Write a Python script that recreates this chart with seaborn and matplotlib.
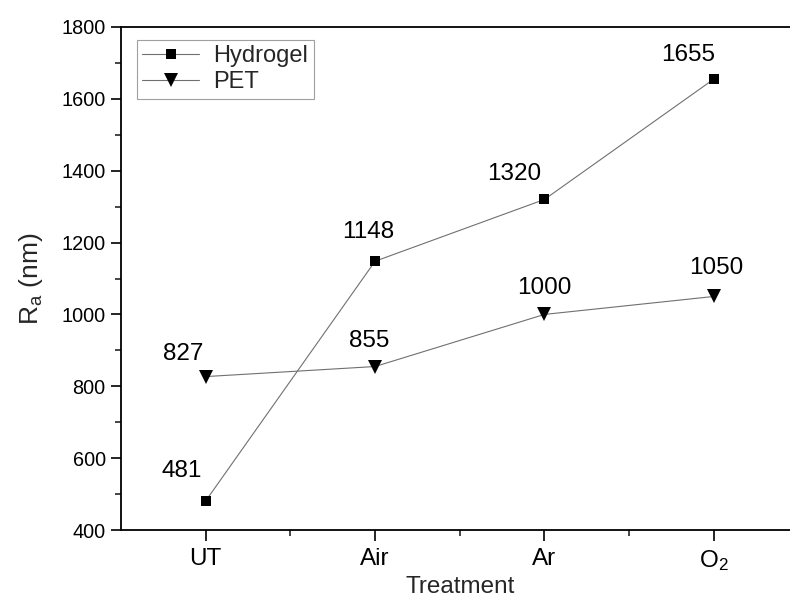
import matplotlib
matplotlib.use("Agg")
import matplotlib.pyplot as plt
from matplotlib.lines import Line2D
from matplotlib.ticker import MultipleLocator, FixedLocator
import seaborn as sns
import pandas as pd

# Surface roughness by plasma treatment
treatments = ["UT", "Air", "Ar", "O$_2$"]
hydrogel_ra = [481, 1148, 1320, 1655]
pet_ra = [827, 855, 1000, 1050]

# value-label offsets in pixels (dx, dy) relative to each marker
hydrogel_label_offsets = [(-24, 30), (-7, 29), (-30, 25), (-26, 24)]
pet_label_offsets = [(-23, 23), (-6, 26), (0, 26), (2, 28)]

sns.set_theme(style="white")
plt.rcParams["font.family"] = ["Liberation Sans", "DejaVu Sans"]
plt.rcParams["mathtext.default"] = "regular"

df = pd.DataFrame({
    "pos": list(range(len(treatments))) * 2,
    "Ra": hydrogel_ra + pet_ra,
    "series": ["Hydrogel"] * len(treatments) + ["PET"] * len(treatments),
})

fig = plt.figure(figsize=(7.9, 6.01), dpi=100)
ax = fig.add_axes([121 / 790, 1 - 530 / 601, 677.5 / 790, (530 - 27) / 601])

line_color = "#707070"
styles = {"Hydrogel": dict(marker="s", ms=7.5), "PET": dict(marker="v", ms=10)}
for name, sub in df.groupby("series", sort=False):
    sns.lineplot(data=sub, x="pos", y="Ra", ax=ax, color=line_color, lw=0.8,
                 marker=styles[name]["marker"], markersize=styles[name]["ms"],
                 markerfacecolor="black", markeredgecolor="black",
                 markeredgewidth=0, legend=False, sort=False)

px = 0.72  # points per pixel at 100 dpi
for vals, offs in ((hydrogel_ra, hydrogel_label_offsets), (pet_ra, pet_label_offsets)):
    for i, (v, (dx, dy)) in enumerate(zip(vals, offs)):
        ax.annotate(f"{v}", (i, v), xytext=(dx * px, dy * px),
                    textcoords="offset points", ha="center", va="center",
                    fontsize=17.5, color="black")

ax.set_xlim(-0.5, 3.5)
ax.set_ylim(400, 1800)
ax.set_xticks(range(len(treatments)))
ax.set_xticklabels(treatments)
ax.xaxis.set_minor_locator(FixedLocator([0.5, 1.5, 2.5]))
ax.yaxis.set_major_locator(MultipleLocator(200))
ax.yaxis.set_minor_locator(MultipleLocator(100))
ax.tick_params(axis="both", which="major", direction="out", width=1.2,
               colors="black", bottom=True, left=True)
ax.tick_params(axis="both", which="minor", direction="out", length=4, width=1.2,
               bottom=True, left=True)
ax.tick_params(axis="x", which="major", length=8, pad=5, labelsize=17.5)
ax.tick_params(axis="y", which="major", length=7, pad=4, labelsize=14.3)

for sp in ax.spines.values():
    sp.set_visible(True)
    sp.set_color("black")
    sp.set_linewidth(1.3)

ax.set_xlabel("Treatment", fontsize=17.5, labelpad=2)
ax.set_ylabel("R$_a$ (nm)", fontsize=19, labelpad=12)

handles = [
    Line2D([], [], color=line_color, lw=0.8, marker="s", ms=7.5,
           markerfacecolor="black", markeredgecolor="black", markeredgewidth=0),
    Line2D([], [], color=line_color, lw=0.8, marker="v", ms=10,
           markerfacecolor="black", markeredgecolor="black", markeredgewidth=0),
]
leg = ax.legend(handles, ["Hydrogel", "PET"], loc="upper left",
                bbox_to_anchor=(0.023, 0.975), fontsize=17, frameon=True,
                fancybox=False, edgecolor="#888888", handlelength=2.4,
                handletextpad=0.6, borderpad=0.25, labelspacing=0.15,
                borderaxespad=0)
leg.get_frame().set_linewidth(0.8)

fig.savefig("out.png", dpi=100)
